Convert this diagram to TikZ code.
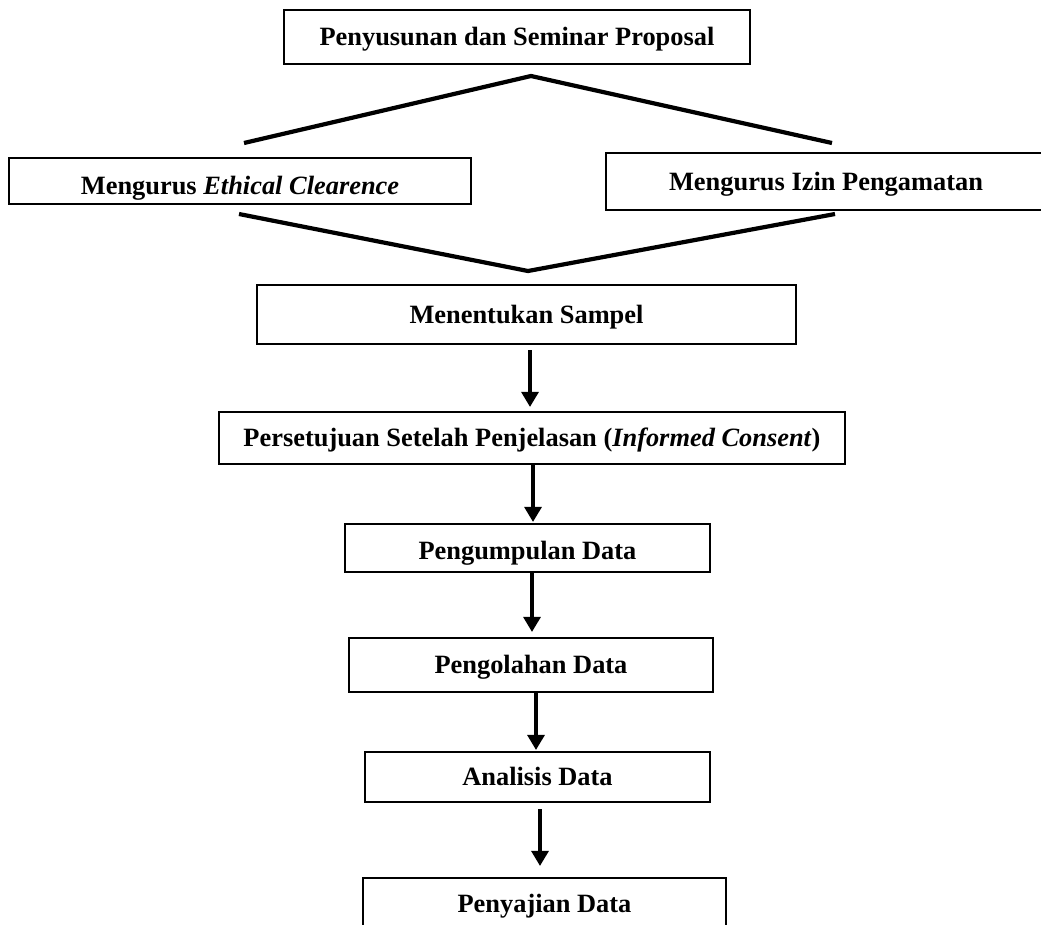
\documentclass[tikz,border=0pt]{standalone}
\usepackage{fontspec}
\setmainfont{Liberation Serif}
\usetikzlibrary{arrows.meta}
\tikzset{
  >={Triangle[width=17pt,length=15pt]},
  box/.style={draw, line width=2.2pt, inner sep=0pt,
    font=\bfseries\fontsize{26.4}{30}\selectfont,
    text height=17.4pt, text depth=0pt},
  flow/.style={->, line width=3.2pt},
  split/.style={line width=4.2pt}
}

\begin{document}
\begin{tikzpicture}[x=1pt,y=-1pt]
    \useasboundingbox (0,0) rectangle (1041,924);
    \clip (0,0) rectangle (1041,924);
    \node[box, minimum width=466pt, minimum height=54pt] (prop) at (517,37) {Penyusunan dan Seminar Proposal};
    \node[box, minimum width=462pt, minimum height=46pt, text height=25.4pt] (etik) at (240,181.3) {Mengurus \textit{Ethical Clearence}};
    \node[box, minimum width=440pt, minimum height=57pt] (izin) at (826,181.5) {Mengurus Izin Pengamatan};
    \node[box, minimum width=539pt, minimum height=59pt] (sampel) at (526.5,314.5) {Menentukan Sampel};
    \node[box, minimum width=626pt, minimum height=52pt] (ic) at (532,438) {Persetujuan Setelah Penjelasan (\textit{Informed Consent})};
    \node[box, minimum width=365pt, minimum height=48pt, text height=23.4pt] (kumpul) at (527.5,548) {Pengumpulan Data};
    \node[box, minimum width=364pt, minimum height=54pt] (olah) at (531,665) {Pengolahan Data};
    \node[box, minimum width=345pt, minimum height=50pt] (analisis) at (537.5,777) {Analisis Data};
    \node[box, minimum width=363pt, minimum height=52pt] (saji) at (544.5,904) {Penyajian Data};
    % cabang
    \coordinate (topapex) at (531,76);
    \coordinate (topleft) at (244,143);
    \coordinate (topright) at (832,143);
    \coordinate (botleft) at (239,214);
    \coordinate (botapex) at (528,271);
    \coordinate (botright) at (835,214);
    \draw[split] (topleft) -- (topapex) -- (topright);
    \draw[split] (botleft) -- (botapex) -- (botright);
    % alur
    \draw[flow] ([xshift=3.5pt,yshift=-5pt]sampel.south) -- ([xshift=-2pt,yshift=4pt]ic.north);
    \draw[flow] ([xshift=1pt]ic.south) -- ([xshift=5.5pt,yshift=1pt]kumpul.north);
    \draw[flow] ([xshift=4.5pt]kumpul.south) -- ([xshift=1pt,yshift=5pt]olah.north);
    \draw[flow] ([xshift=5pt]olah.south) -- ([xshift=-1.5pt,yshift=1pt]analisis.north);
    \draw[flow] ([xshift=2.5pt,yshift=-6pt]analisis.south) -- ([xshift=-4.5pt,yshift=11pt]saji.north);
\end{tikzpicture}
\end{document}
